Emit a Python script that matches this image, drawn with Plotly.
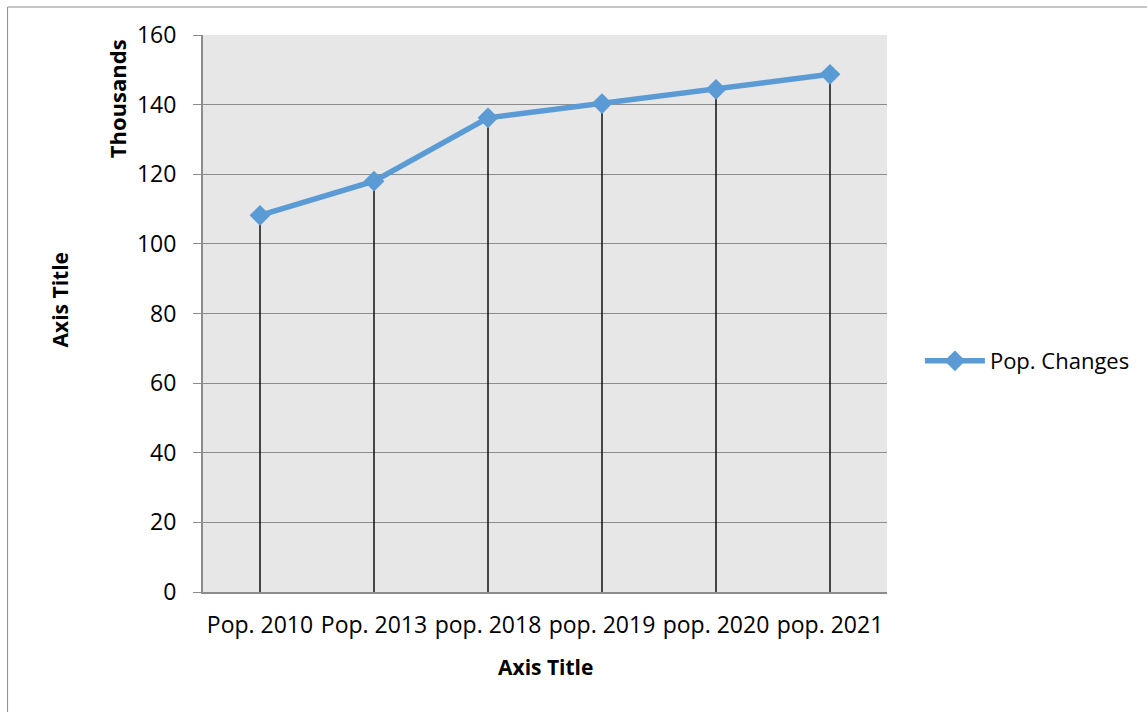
import plotly.graph_objects as go

# Population series (thousands)
categories = ["Pop. 2010", "Pop. 2013", "pop. 2018", "pop. 2019", "pop. 2020", "pop. 2021"]
population = [108.2, 118.0, 136.2, 140.3, 144.4, 148.7]
y_ticks = [0, 20, 40, 60, 80, 100, 120, 140, 160]

FONT = "Open Sans"
BLUE = "#5B9BD5"

fig = go.Figure()

fig.add_trace(go.Scatter(
    x=categories,
    y=population,
    mode="lines+markers",
    name="Pop. Changes",
    line=dict(color=BLUE, width=5.5),
    marker=dict(symbol="diamond", size=16, color=BLUE),
    # drop lines down to the category axis
    error_y=dict(
        type="data",
        symmetric=False,
        array=[0] * len(population),
        arrayminus=population,
        color="black",
        thickness=1.4,
        width=0,
    ),
))

# plot area geometry in pixels
L, R, T, B = 203, 889, 35, 592
W, H = 1147, 712
pw, ph = R - L, B - T

fig.update_layout(
    width=W,
    height=H,
    margin=dict(l=L, r=W - R, t=T, b=H - B),
    paper_bgcolor="white",
    plot_bgcolor="#E7E7E7",
    font=dict(family=FONT, size=22, color="black"),
    showlegend=True,
    legend=dict(
        x=(922 - L) / pw,
        y=(B - 361) / ph,
        xanchor="left",
        yanchor="middle",
        font=dict(family=FONT, size=22, color="black"),
        bgcolor="rgba(0,0,0,0)",
        itemwidth=60,
    ),
    xaxis=dict(
        type="category",
        categoryorder="array",
        categoryarray=categories,
        range=[-0.5, len(categories) - 0.5],
        showgrid=False,
        showline=True,
        linecolor="#8C8C8C",
        linewidth=2,
        ticks="",
        tickfont=dict(family=FONT, size=23, color="black"),
        ticklabelstandoff=11,
        zeroline=False,
        fixedrange=True,
    ),
    yaxis=dict(
        range=[0, 160],
        tickvals=y_ticks,
        showgrid=True,
        gridcolor="#8C8C8C",
        gridwidth=1,
        showline=True,
        linecolor="#8C8C8C",
        linewidth=2,
        ticks="outside",
        ticklen=8,
        tickcolor="#8C8C8C",
        tickwidth=1,
        tickfont=dict(family=FONT, size=23, color="black"),
        ticklabelstandoff=12,
        zeroline=False,
        fixedrange=True,
    ),
    shapes=[
        dict(
            type="rect",
            xref="paper", yref="paper",
            x0=(7 - L) / pw, x1=(1160 - L) / pw,
            y0=(B - 725) / ph, y1=(B - 7) / ph,
            line=dict(color="#8C8C8C", width=1),
            fillcolor="rgba(0,0,0,0)",
            layer="below",
        )
    ],
    annotations=[
        dict(
            text="<b>Thousands</b>",
            xref="paper", yref="paper",
            x=(117 - L) / pw, y=(B - 99) / ph,
            xanchor="center", yanchor="middle",
            textangle=-90, showarrow=False,
            font=dict(family=FONT, size=22, color="black"),
        ),
        dict(
            text="<b>Axis Title</b>",
            xref="paper", yref="paper",
            x=(60 - L) / pw, y=(B - 300) / ph,
            xanchor="center", yanchor="middle",
            textangle=-90, showarrow=False,
            font=dict(family=FONT, size=21, color="black"),
        ),
        dict(
            text="<b>Axis Title</b>",
            xref="paper", yref="paper",
            x=(546 - L) / pw, y=(B - 667) / ph,
            xanchor="center", yanchor="middle",
            showarrow=False,
            font=dict(family=FONT, size=21, color="black"),
        ),
    ],
)

fig.write_html("out.html")
